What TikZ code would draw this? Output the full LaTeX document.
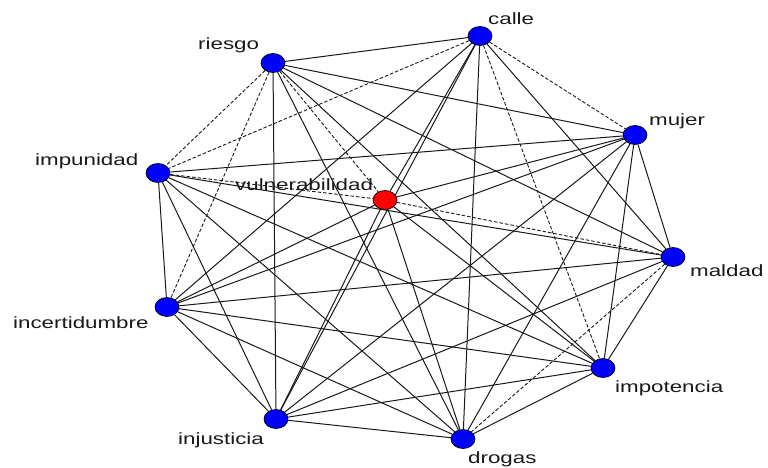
\documentclass[tikz,border=0pt]{standalone}
\usepackage{fontspec}
\usetikzlibrary{shapes.geometric}
\newfontfamily\labfont[FakeStretch=1.37]{Liberation Sans}
\pgfdeclarelayer{background}
\pgfsetlayers{background,main}
\definecolor{nodeblue}{RGB}{0,0,255}
\definecolor{nodered}{RGB}{255,0,0}
\definecolor{labgray}{RGB}{25,25,25}
\tikzset{
  vert/.style={ellipse, draw=black, line width=0.7pt, minimum width=24pt, minimum height=19pt, inner sep=0pt},
  bluev/.style={vert, fill=nodeblue},
  redv/.style={vert, fill=nodered},
  lab/.style={inner sep=0pt, anchor=base west, text=labgray, font=\labfont\fontsize{16.3}{18}\selectfont},
  edge/.style={draw=black!90, line width=1pt},
  dedge/.style={edge, line width=0.9pt, dash pattern=on 3.5pt off 2pt}
}
\begin{document}
\begin{tikzpicture}[x=1pt,y=-1pt]
\useasboundingbox (0,0) rectangle (768,468);
% vertices
\node[bluev] (C) at (480,36) {};
\node[bluev] (R) at (273,63) {};
\node[bluev] (M) at (635,135) {};
\node[bluev] (P) at (158,173) {};
\node[redv]  (V) at (385,200) {};
\node[bluev] (D) at (673,257) {};
\node[bluev] (I) at (167,307) {};
\node[bluev] (T) at (603,368) {};
\node[bluev] (J) at (276,419) {};
\node[bluev] (G) at (463,439) {};
% labels
\node[lab] (lC) at (488,25) {calle};
\node[lab] (lR) at (198,50) {riesgo};
\node[lab] (lM) at (649,126) {mujer};
\node[lab] (lP) at (35,165.5) {impunidad};
\node[lab] (lV) at (235,190) {vulnerabilidad};
\node[lab] (lD) at (690,276.5) {maldad};
\node[lab] (lI) at (13,328) {incertidumbre};
\node[lab] (lT) at (615,392) {impotencia};
\node[lab] (lJ) at (178,444) {injusticia};
\node[lab] (lG) at (468,463) {drogas};
% edges
\begin{pgfonlayer}{background}
\draw[edge] (C) -- (R);
\draw[dedge] (C) -- (M);
\draw[dedge] (C) -- (P);
\draw[edge] (C) -- (V);
\draw[edge] (C) -- (D);
\draw[edge] (C) -- (I);
\draw[dedge] (C) -- (T);
\draw[edge] (C) -- (J);
\draw[edge] (C) -- (G);
\draw[edge] (R) -- (M);
\draw[dedge] (R) -- (P);
\draw[dedge] (R) -- (V);
\draw[edge] (R) -- (D);
\draw[dedge] (R) -- (I);
\draw[edge] (R) -- (T);
\draw[edge] (R) -- (J);
\draw[edge] (R) -- (G);
\draw[edge] (M) -- (P);
\draw[edge] (M) -- (V);
\draw[edge] (M) -- (D);
\draw[edge] (M) -- (I);
\draw[edge] (M) -- (T);
\draw[edge] (M) -- (J);
\draw[edge] (M) -- (G);
\draw[dedge] (P) -- (V);
\draw[edge] (P) -- (D);
\draw[edge] (P) -- (I);
\draw[edge] (P) -- (T);
\draw[edge] (P) -- (J);
\draw[edge] (P) -- (G);
\draw[dedge] (V) -- (D);
\draw[edge] (V) -- (I);
\draw[edge] (V) -- (T);
\draw[edge] (V) -- (J);
\draw[edge] (V) -- (G);
\draw[edge] (D) -- (I);
\draw[edge] (D) -- (T);
\draw[edge] (D) -- (J);
\draw[dedge] (D) -- (G);
\draw[edge] (I) -- (T);
\draw[edge] (I) -- (J);
\draw[edge] (I) -- (G);
\draw[edge] (T) -- (J);
\draw[edge] (T) -- (G);
\draw[edge] (J) -- (G);
\end{pgfonlayer}
\end{tikzpicture}
\end{document}
